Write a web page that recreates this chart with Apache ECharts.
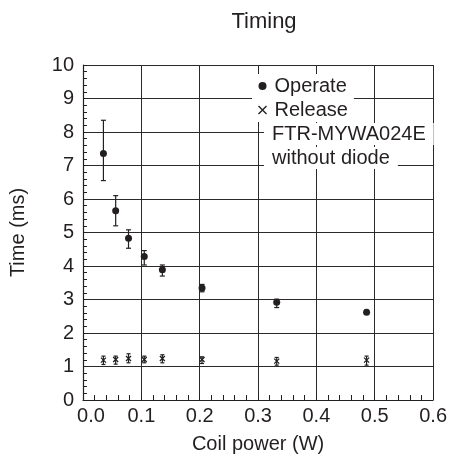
<!DOCTYPE html>
<html>
<head>
<meta charset="utf-8">
<script src="https://cdn.jsdelivr.net/npm/echarts@6/dist/echarts.min.js"></script>
<style>
  html, body { margin: 0; padding: 0; background: #fff; }
  #main { width: 450px; height: 465px; }
</style>
</head>
<body>
<div id="main"></div>
<script>
var coilPower = [0.035, 0.056, 0.078, 0.105, 0.136, 0.204, 0.332, 0.486];
var operate = [7.36, 5.65, 4.83, 4.28, 3.89, 3.34, 2.92, 2.62];
var operateLow = [6.55, 5.20, 4.53, 4.03, 3.70, 3.23, 2.76, 2.56];
var operateHigh = [8.35, 6.10, 5.08, 4.46, 4.03, 3.45, 3.01, 2.68];
var release = [1.19, 1.21, 1.24, 1.21, 1.24, 1.21, 1.16, 1.19];
var releaseLow = [1.06, 1.07, 1.11, 1.11, 1.11, 1.09, 1.04, 1.04];
var releaseHigh = [1.31, 1.31, 1.38, 1.31, 1.35, 1.29, 1.27, 1.31];
var noteLines = ['FTR-MYWA024E', 'without diode'];

var font = 'Liberation Sans, Arial, sans-serif';
var ink = '#231f20';
var crossPath = 'path://M0,0L10,10M10,0L0,10';

function pairs(ys) {
    return coilPower.map(function (x, i) { return [x, ys[i]]; });
}
function bars(lo, hi) {
    return coilPower.map(function (x, i) { return [x, lo[i], hi[i]]; });
}
function errorBar(capHalf) {
    return function (params, api) {
        var top = api.coord([api.value(0), api.value(2)]);
        var bot = api.coord([api.value(0), api.value(1)]);
        var st = { stroke: ink, lineWidth: 1.2 };
        return {
            type: 'group',
            children: [
                { type: 'line', shape: { x1: top[0], y1: top[1], x2: bot[0], y2: bot[1] }, style: st },
                { type: 'line', shape: { x1: top[0] - capHalf, y1: top[1], x2: top[0] + capHalf, y2: top[1] }, style: st },
                { type: 'line', shape: { x1: bot[0] - capHalf, y1: bot[1], x2: bot[0] + capHalf, y2: bot[1] }, style: st }
            ]
        };
    };
}

var myChart = echarts.init(document.getElementById('main'));
option = {
    animation: false,
    title: {
        text: 'Timing',
        left: 259,
        textAlign: 'center',
        top: 6,
        textStyle: { fontFamily: font, fontSize: 22, fontWeight: 'normal', color: ink }
    },
    grid: { left: 82, right: 16, top: 65, bottom: 65 },
    legend: {
        data: [
            { name: 'Operate', icon: 'circle' },
            { name: 'Release', icon: crossPath, itemStyle: { color: 'none', borderColor: ink, borderWidth: 1.4 } }
        ],
        orient: 'vertical',
        left: 252,
        top: 74,
        itemGap: 4,
        itemWidth: 8,
        itemHeight: 8,
        padding: [2, 6, 2, 4],
        backgroundColor: '#fff',
        textStyle: { fontFamily: font, fontSize: 20, color: ink, lineHeight: 20, padding: [0, 0, 0, 3] }
    },
    graphic: noteLines.map(function (t, i) {
        return {
            type: 'text',
            left: 264,
            top: 123 + i * 24,
            z: 100,
            style: {
                text: t,
                fill: ink,
                font: '20px ' + font,
                backgroundColor: '#fff',
                padding: [1, 8, 1, 8]
            }
        };
    }),
    xAxis: {
        type: 'value',
        min: 0,
        max: 0.6,
        interval: 0.1,
        name: 'Coil power (W)',
        nameLocation: 'middle',
        nameGap: 34,
        nameTextStyle: { fontFamily: font, fontSize: 20, color: ink },
        axisLine: { lineStyle: { color: ink, width: 1.2 } },
        axisTick: { show: true, inside: true, length: 5, lineStyle: { color: ink } },
        minorTick: { show: true, splitNumber: 5, length: 5, lineStyle: { color: ink } },
        splitLine: { show: true, lineStyle: { color: '#2a2a2a', width: 1 } },
        axisLabel: {
            fontFamily: font, fontSize: 20, color: ink, margin: 6,
            formatter: function (v) {
                return v === 0 ? '{first|0.0}' : v.toFixed(1);
            },
            rich: { first: { fontFamily: font, fontSize: 20, color: ink, padding: [0, 0, 0, 16] } }
        }
    },
    yAxis: {
        type: 'value',
        min: 0,
        max: 10,
        interval: 1,
        name: 'Time (ms)',
        nameLocation: 'middle',
        nameGap: 55,
        nameTextStyle: { fontFamily: font, fontSize: 20, color: ink },
        axisLine: { show: true, lineStyle: { color: ink, width: 1.2 } },
        axisTick: { show: true, inside: true, length: 4, lineStyle: { color: ink } },
        minorTick: { show: true, splitNumber: 5, length: 4, lineStyle: { color: ink } },
        splitLine: { show: true, lineStyle: { color: '#2a2a2a', width: 1 } },
        axisLabel: { fontFamily: font, fontSize: 20, color: ink, margin: 9 }
    },
    series: [
        {
            name: 'OperateErr',
            type: 'custom',
            renderItem: errorBar(2.5),
            data: bars(operateLow, operateHigh),
            z: 3
        },
        {
            name: 'ReleaseErr',
            type: 'custom',
            renderItem: errorBar(2),
            data: bars(releaseLow, releaseHigh),
            z: 3
        },
        {
            name: 'Operate',
            type: 'scatter',
            symbol: 'circle',
            symbolSize: 7,
            itemStyle: { color: ink, opacity: 1 },
            data: pairs(operate),
            z: 4
        },
        {
            name: 'Release',
            type: 'scatter',
            symbol: crossPath,
            symbolSize: 5,
            itemStyle: { color: 'none', borderColor: ink, borderWidth: 1.3, opacity: 1 },
            data: pairs(release),
            z: 4
        }
    ]
};
myChart.setOption(option);
</script>
</body>
</html>
